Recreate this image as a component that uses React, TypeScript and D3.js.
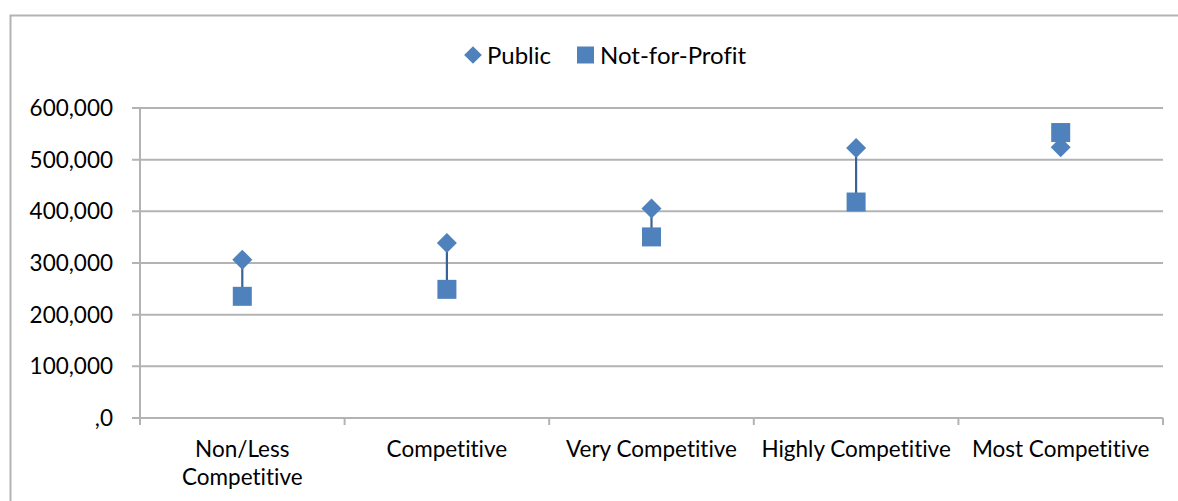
import React, { useEffect, useRef } from "react";
import * as d3 from "d3";

const categories = ["Non/Less Competitive", "Competitive", "Very Competitive", "Highly Competitive", "Most Competitive"];
const publicValues = [306500, 338500, 405500, 522500, 524000];
const nfpValues = [235500, 249000, 350500, 418000, 552500];
const yTicks = [0, 100000, 200000, 300000, 400000, 500000, 600000];
const yTickLabels = [",0", "100,000", "200,000", "300,000", "400,000", "500,000", "600,000"];
const seriesNames = ["Public", "Not-for-Profit"];

const W = 1178;
const H = 501;
const FONT = "Lato, 'Open Sans', sans-serif";
const FS = 22.5;
const BLUE = "#4F81BD";
const LINE = "#3B6296";
const GRID = "#B3B3B3";

export default function App() {
  const ref = useRef<SVGSVGElement | null>(null);
  useEffect(() => {
    const svg = d3.select(ref.current);
    svg.selectAll("*").remove();
    svg.style("font-variant-ligatures", "none").style("font-kerning", "normal");
    const left = 140, right = 1163, top = 108, bottom = 418;
    const x = d3.scaleBand<string>().domain(categories).range([left, right]);
    const y = d3.scaleLinear().domain([0, 600000]).range([bottom, top]);

    svg.append("rect").attr("x", 10.5).attr("y", 15.5).attr("width", W + 20).attr("height", H + 20)
      .attr("fill", "white").attr("stroke", GRID).attr("stroke-width", 2);

    // gridlines
    svg.append("g").selectAll("line").data(yTicks).join("line")
      .attr("x1", left - 8).attr("x2", right).attr("y1", (d) => y(d)).attr("y2", (d) => y(d))
      .attr("stroke", GRID).attr("stroke-width", 2);
    // y axis line
    svg.append("line").attr("x1", left).attr("x2", left).attr("y1", top).attr("y2", bottom + 7)
      .attr("stroke", GRID).attr("stroke-width", 2);
    // category ticks
    const edges = categories.map((c) => x(c)!).concat([right]);
    svg.append("g").selectAll("line").data(edges).join("line")
      .attr("x1", (d) => d).attr("x2", (d) => d).attr("y1", bottom).attr("y2", bottom + 7)
      .attr("stroke", GRID).attr("stroke-width", 2);

    // y labels
    svg.append("g").selectAll("text").data(yTicks).join("text")
      .attr("x", 113).attr("y", (d) => y(d)).attr("dy", "0.36em").attr("text-anchor", "end")
      .attr("font-family", FONT).attr("font-size", FS).attr("fill", "#000")
      .text((d, i) => yTickLabels[i]);

    // category labels with wrapping
    const ctx = document.createElement("canvas").getContext("2d")!;
    ctx.font = `${FS}px Lato`;
    const bw = x.bandwidth();
    categories.forEach((c) => {
      const words = c.split(" ");
      const lines: string[] = [];
      let cur = "";
      words.forEach((w) => {
        const t = cur ? cur + " " + w : w;
        if (ctx.measureText(t).width > bw - 6 && cur) { lines.push(cur); cur = w; } else cur = t;
      });
      lines.push(cur);
      const t = svg.append("text").attr("text-anchor", "middle").attr("font-family", FONT)
        .attr("font-size", FS).attr("fill", "#000");
      lines.forEach((l, i) => {
        t.append("tspan").attr("x", x(c)! + bw / 2).attr("y", 457 + i * 28).text(l);
      });
    });

    const cx = (c: string) => x(c)! + bw / 2;
    // connecting lines
    svg.append("g").selectAll("line").data(categories).join("line")
      .attr("x1", (c) => cx(c)).attr("x2", (c) => cx(c))
      .attr("y1", (c, i) => y(publicValues[i])).attr("y2", (c, i) => y(nfpValues[i]))
      .attr("stroke", LINE).attr("stroke-width", 2.2);

    const diamond = d3.symbol().type(d3.symbolDiamond2).size(255);
    svg.append("g").selectAll("path").data(categories).join("path")
      .attr("d", diamond as any)
      .attr("transform", (c, i) => `translate(${cx(c)},${y(publicValues[i])})`)
      .attr("fill", BLUE);
    const sq = 19;
    svg.append("g").selectAll("rect").data(categories).join("rect")
      .attr("x", (c) => cx(c) - sq / 2).attr("y", (c, i) => y(nfpValues[i]) - sq / 2)
      .attr("width", sq).attr("height", sq).attr("fill", BLUE);

    // legend
    const lg = svg.append("g");
    lg.append("path").attr("d", d3.symbol().type(d3.symbolDiamond2).size(200)() as string)
      .attr("transform", "translate(473,55)").attr("fill", BLUE);
    lg.append("text").attr("x", 487).attr("y", 55).attr("dy", "0.36em").attr("font-family", FONT)
      .attr("font-size", 24).text(seriesNames[0]);
    lg.append("rect").attr("x", 577).attr("y", 46.5).attr("width", 17).attr("height", 17).attr("fill", BLUE);
    lg.append("text").attr("x", 600).attr("y", 55).attr("dy", "0.36em").attr("font-family", FONT)
      .attr("font-size", 24).text(seriesNames[1]);
  }, []);
  return (
    <svg ref={ref} width={W} height={H} style={{ position: "absolute", left: 0, top: 0, display: "block" }} />
  );
}
